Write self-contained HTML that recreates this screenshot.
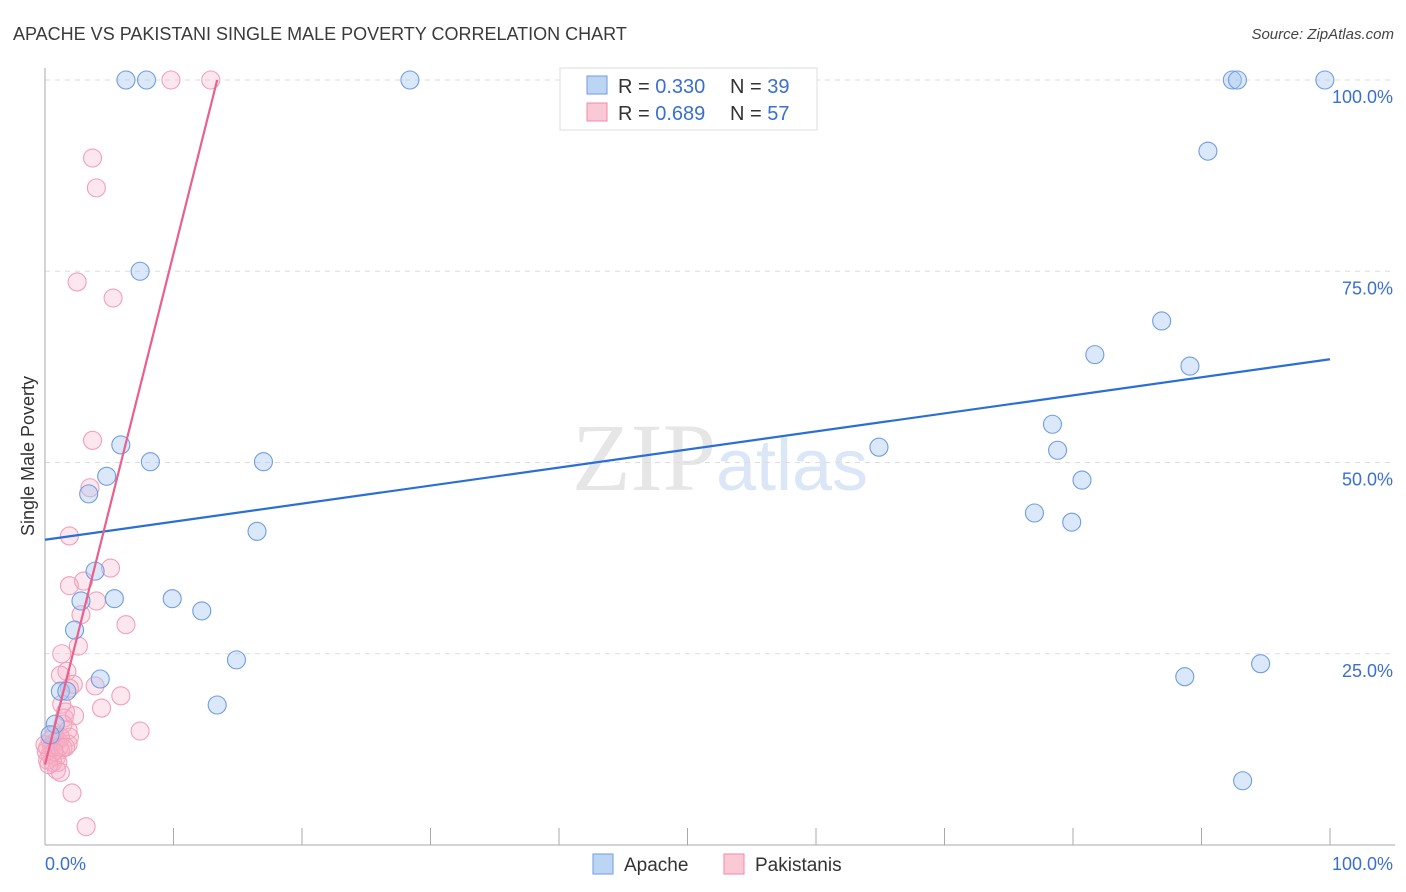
<!DOCTYPE html>
<html><head><meta charset="utf-8"><style>
body{margin:0;background:#fff;font-family:"Liberation Sans",sans-serif;}
</style></head><body>
<svg id="c" width="1406" height="892" xmlns="http://www.w3.org/2000/svg" style="display:block">
<text x="13" y="40" font-size="18" fill="#3a3a3a">APACHE VS PAKISTANI SINGLE MALE POVERTY CORRELATION CHART</text>
<text x="1394" y="39" font-size="15" fill="#444" font-style="italic" text-anchor="end">Source: ZipAtlas.com</text>
<text x="720" y="490" font-size="96" text-anchor="middle" font-family="Liberation Serif,serif" fill="#e6e6e6">ZIP<tspan fill="#dbe6f6" font-family="Liberation Sans,sans-serif" font-size="72">atlas</tspan></text>
<text transform="translate(34,456) rotate(-90)" font-size="18" fill="#333" text-anchor="middle">Single Male Poverty</text>
<g id="grid"></g>
<g id="pts"></g>
<g id="lines"></g>
<g>
<rect x="560" y="68" width="257" height="62" fill="#fff" stroke="#ddd"/>
<rect x="587" y="76" width="20" height="18" fill="#bcd5f5" stroke="#6f9be0"/>
<rect x="587" y="103" width="20" height="18" fill="#fbc8d6" stroke="#f08aa8"/>
<text x="618" y="93" font-size="20" fill="#333">R = <tspan fill="#3a6fd0">0.330</tspan></text>
<text x="730" y="93" font-size="20" fill="#333">N = <tspan fill="#3a6fd0">39</tspan></text>
<text x="618" y="120" font-size="20" fill="#333">R = <tspan fill="#3a6fd0">0.689</tspan></text>
<text x="730" y="120" font-size="20" fill="#333">N = <tspan fill="#3a6fd0">57</tspan></text>
</g>
<g>
<rect x="593" y="854" width="20" height="20" fill="#bcd5f5" stroke="#6f9be0"/>
<text x="624" y="871" font-size="19" fill="#333">Apache</text>
<rect x="724" y="854" width="20" height="20" fill="#fbc8d6" stroke="#f08aa8"/>
<text x="755" y="871" font-size="19" fill="#333">Pakistanis</text>
</g>
</svg>
<script>
const apacheX=[6.3,7.9,28.4,92.4,92.8,99.6,90.5,7.4,86.9,81.7,89.1,78.4,78.8,64.9,5.9,8.2,17.0,4.8,80.7,3.4,77.0,79.9,16.5,3.9,2.8,5.4,9.9,12.2,2.3,14.9,4.3,1.2,1.7,13.4,88.7,94.6,93.2,0.8,0.4];
const apacheY=[100,100,100,100,100,100,90.7,75.0,68.5,64.1,62.6,55.0,51.6,52.0,52.3,50.1,50.1,48.2,47.7,45.9,43.4,42.2,41.0,35.8,31.9,32.2,32.2,30.6,28.1,24.2,21.7,20.1,20.1,18.3,22.0,23.7,8.4,15.8,14.4];
const pakX=[9.8,12.9,3.7,4.0,2.5,5.3,3.7,3.5,1.9,5.1,1.9,3.0,4.0,2.8,6.3,2.6,1.3,1.7,1.2,2.2,1.9,3.9,5.9,4.4,1.3,1.6,1.5,2.3,1.4,1.8,1.9,7.4,1.8,1.0,0.8,0.5,0.2,1.2,0.4,0.9,0.2,0.6,1.0,0.1,0.4,0.7,1.2,0.0,1.1,1.4,0.9,1.2,2.1,3.2,1.6,0.7,0.3];
const pakY=[100,100,89.8,85.9,73.6,71.5,52.9,46.7,40.4,36.2,33.9,34.5,31.9,30.1,28.8,26.0,25.0,22.7,22.2,21.0,20.5,20.8,19.5,17.9,18.4,17.4,16.6,16.9,15.8,15.0,14.1,14.9,13.2,13.7,13.5,12.9,12.7,12.4,11.8,11.5,11.1,10.8,10.8,12.2,13.7,14.4,14.1,13.1,12.8,12.7,9.8,9.5,6.8,2.4,12.8,12.2,10.5];
const yTicks=[25,50,75,100];
const yTickLabels=["25.0%","50.0%","75.0%","100.0%"];
const xTickLabels=["0.0%","100.0%"];
const apacheTrend=[0,39.9,100,63.5];
const pakTrend=[0,10.5,13.4,100];
const NS="http://www.w3.org/2000/svg";
const sx=v=>45+v*12.85, sy=v=>845-v*7.65;
function mk(tag,attrs,parent){const e=document.createElementNS(NS,tag);for(const k in attrs)e.setAttribute(k,attrs[k]);parent.appendChild(e);return e;}
const grid=document.getElementById('grid'),pts=document.getElementById('pts'),lines=document.getElementById('lines');
yTicks.forEach((t,i)=>{
 const l=mk('line',{x1:45,x2:1395,y1:sy(t),y2:sy(t),stroke:'#ddd','stroke-dasharray':'5,5'},grid);
 
 
 const tx=mk('text',{x:1393,y:sy(t)+23,'font-size':18,fill:'#3a6fd0','text-anchor':'end'},grid);
 tx.textContent=yTickLabels[i];
 
 
});
const ya=mk('line',{x1:45,x2:45,y1:68,y2:845,stroke:'#aaa'},grid);


const xa=mk('line',{x1:45,x2:1395,y1:845,y2:845,stroke:'#aaa'},grid);


for(let i=1;i<=10;i++){const t=mk('line',{x1:sx(i*10),x2:sx(i*10),y1:828,y2:845,stroke:'#aaa'},grid);
 
 }
[[0,'start',45],[100,'end',1393]].forEach((d,i)=>{const tx=mk('text',{x:d[2],y:870,'font-size':18,fill:'#3a6fd0','text-anchor':d[1]},grid);tx.textContent=xTickLabels[i];
 
 });
pakX.forEach((x,i)=>{const c=mk('circle',{cx:sx(x),cy:sy(pakY[i]),r:9,fill:'rgba(248,175,198,0.3)',stroke:'#f2a0b8','stroke-width':1.1},pts);
 
 });
apacheX.forEach((x,i)=>{const c=mk('circle',{cx:sx(x),cy:sy(apacheY[i]),r:9,fill:'rgba(165,198,240,0.4)',stroke:'#6f9de0','stroke-width':1.1},pts);
 
 });
const bl=mk('line',{x1:sx(apacheTrend[0]),y1:sy(apacheTrend[1]),x2:sx(apacheTrend[2]),y2:sy(apacheTrend[3]),stroke:'#2a6fd6','stroke-width':2.2},lines);


const pl=mk('line',{x1:sx(pakTrend[0]),y1:sy(pakTrend[1]),x2:sx(pakTrend[2]),y2:sy(pakTrend[3]),stroke:'#e8608c','stroke-width':2.2},lines);


</script>
</body></html>
